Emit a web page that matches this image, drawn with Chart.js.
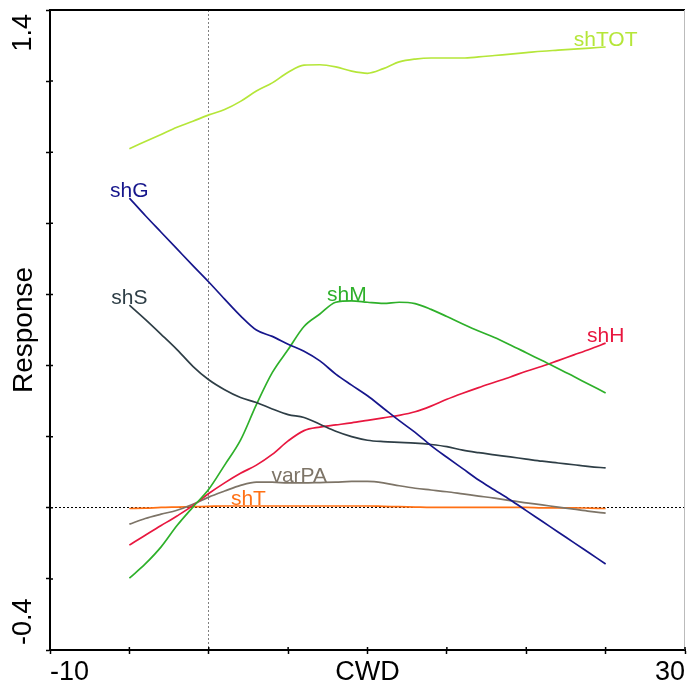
<!DOCTYPE html>
<html lang="en">

<head>
   <meta charset="UTF-8">
   <title>Response vs CWD</title>
   <script src="https://cdn.jsdelivr.net/npm/chart.js@4.4.1/dist/chart.umd.min.js"></script>
   <style>
      body { margin: 0; background: #fff; }
   </style>
</head>

<body>
   <canvas id="myChart" width="687" height="686"></canvas>
   <script>
      // x values (CWD) and the response curves
      const cwd = [-5, -4, -3, -2, -1, 0, 1, 2, 3, 4, 5, 6, 7, 8, 9, 10, 11, 12, 13, 14, 15, 16, 17, 18, 19, 20, 21, 22, 23, 24, 25];
      const shTOT = [1.01, 1.03, 1.05, 1.07, 1.087, 1.105, 1.12, 1.143, 1.172, 1.195, 1.225, 1.245, 1.246, 1.24, 1.228, 1.222, 1.235, 1.254, 1.262, 1.265, 1.265, 1.265, 1.268, 1.272, 1.276, 1.28, 1.284, 1.287, 1.29, 1.293, 1.296];
      const shG = [0.871, 0.822, 0.775, 0.728, 0.681, 0.635, 0.587, 0.54, 0.5, 0.482, 0.46, 0.44, 0.413, 0.376, 0.345, 0.315, 0.28, 0.245, 0.212, 0.175, 0.142, 0.11, 0.078, 0.05, 0.022, -0.008, -0.038, -0.068, -0.098, -0.128, -0.158];
      const shS = [0.57, 0.53, 0.488, 0.445, 0.398, 0.36, 0.332, 0.31, 0.296, 0.278, 0.262, 0.254, 0.235, 0.215, 0.2, 0.19, 0.186, 0.184, 0.182, 0.178, 0.172, 0.162, 0.155, 0.149, 0.143, 0.137, 0.131, 0.126, 0.121, 0.116, 0.112];
      const shM = [-0.198, -0.158, -0.11, -0.05, 0.002, 0.052, 0.12, 0.19, 0.29, 0.38, 0.445, 0.51, 0.545, 0.578, 0.582, 0.578, 0.575, 0.578, 0.574, 0.558, 0.538, 0.517, 0.497, 0.479, 0.458, 0.436, 0.414, 0.392, 0.369, 0.346, 0.323];
      const shH = [-0.105, -0.077, -0.05, -0.023, 0.006, 0.04, 0.07, 0.097, 0.12, 0.15, 0.188, 0.217, 0.227, 0.233, 0.239, 0.246, 0.253, 0.26, 0.27, 0.286, 0.305, 0.322, 0.338, 0.353, 0.368, 0.384, 0.398, 0.414, 0.43, 0.446, 0.463];
      const varPA = [-0.046, -0.03, -0.018, -0.007, 0.01, 0.03, 0.047, 0.063, 0.072, 0.072, 0.07, 0.07, 0.071, 0.072, 0.074, 0.074, 0.07, 0.062, 0.055, 0.05, 0.045, 0.039, 0.033, 0.027, 0.02, 0.014, 0.008, 0.002, -0.004, -0.01, -0.015];
      const shT = [-0.002, -0.001, 0.001, 0.002, 0.003, 0.004, 0.005, 0.005, 0.005, 0.005, 0.005, 0.005, 0.005, 0.005, 0.005, 0.005, 0.004, 0.003, 0.002, 0.001, 0.001, 0.001, 0.001, 0.001, 0.001, 0.001, 0, 0, 0, -0.001, -0.002];

      const xTickLabels = [-10, 30];
      const yTickLabels = [-0.4, 1.4];

      const series = [
         { name: 'shTOT', data: shTOT, color: '#b5e639', at: [25, 1.296] },
         { name: 'shG', data: shG, color: '#16168c', at: [-5, 0.871] },
         { name: 'shS', data: shS, color: '#2e3e46', at: [-5, 0.57] },
         { name: 'shM', data: shM, color: '#2eb02a', at: [8.7, 0.58] },
         { name: 'shH', data: shH, color: '#e8173f', at: [25, 0.463] },
         { name: 'varPA', data: varPA, color: '#7d7467', at: [5.7, 0.07] },
         { name: 'shT', data: shT, color: '#ff7014', at: [2.5, 0.006] }
      ];

      Chart.defaults.font.family = 'Arial, "Liberation Sans", sans-serif';
      Chart.defaults.color = '#000';

      const isZero = c => c.tick && Math.abs(c.tick.value) < 1e-9;

      // frame, inner tick stubs, rotated y end labels and the curve names
      const overlay = {
         id: 'overlay',
         afterDraw(chart) {
            const { ctx, chartArea: a, scales: { x, y } } = chart;
            ctx.save();
            ctx.strokeStyle = '#000';
            ctx.lineWidth = 2;
            ctx.beginPath();
            ctx.moveTo(a.left, a.top);
            ctx.lineTo(a.right, a.top);
            ctx.stroke();
            ctx.strokeStyle = '#bbb';
            ctx.lineWidth = 1;
            ctx.beginPath();
            ctx.moveTo(a.right - 0.5, a.top);
            ctx.lineTo(a.right - 0.5, a.bottom);
            ctx.stroke();

            ctx.strokeStyle = '#000';
            ctx.lineWidth = 1.5;
            ctx.beginPath();
            x.ticks.forEach(t => {
               const px = x.getPixelForValue(t.value);
               ctx.moveTo(px, a.bottom);
               ctx.lineTo(px, a.bottom - 3);
            });
            y.ticks.forEach(t => {
               const py = y.getPixelForValue(t.value);
               ctx.moveTo(a.left, py);
               ctx.lineTo(a.left + 3, py);
            });
            ctx.stroke();

            ctx.fillStyle = '#000';
            ctx.font = '27px Arial, "Liberation Sans", sans-serif';
            ctx.textBaseline = 'middle';
            yTickLabels.forEach((v, i) => {
               const last = i === yTickLabels.length - 1;
               ctx.save();
               ctx.translate(24, y.getPixelForValue(v) + (last ? 4 : -5));
               ctx.rotate(-Math.PI / 2);
               ctx.textAlign = last ? 'right' : 'left';
               ctx.fillText(String(v), 0, 0);
               ctx.restore();
            });

            ctx.font = '21px Arial, "Liberation Sans", sans-serif';
            ctx.textAlign = 'center';
            ctx.textBaseline = 'alphabetic';
            series.forEach(s => {
               ctx.fillStyle = s.color;
               ctx.fillText(s.name, x.getPixelForValue(s.at[0]), y.getPixelForValue(s.at[1]) - 1);
            });
            ctx.restore();
         }
      };

      const config = {
         type: 'line',
         data: {
            datasets: series.map(s => ({
               label: s.name,
               data: cwd.map((c, i) => ({ x: c, y: s.data[i] })),
               borderColor: s.color,
               backgroundColor: s.color,
               borderWidth: 1.7,
               pointRadius: 0,
               cubicInterpolationMode: 'monotone',
               fill: false
            }))
         },
         options: {
            responsive: false,
            animation: false,
            layout: { padding: { top: 10, right: 0, left: 0, bottom: 0 } },
            plugins: {
               legend: { display: false },
               tooltip: { enabled: false }
            },
            scales: {
               x: {
                  type: 'linear',
                  min: -10,
                  max: 30,
                  afterFit: scale => { scale.height = 36; },
                  ticks: {
                     stepSize: 5,
                     align: 'inner',
                     padding: 2,
                     maxRotation: 0,
                     font: { size: 27 },
                     callback: v => xTickLabels.includes(v) ? String(v) : ''
                  },
                  grid: {
                     color: c => isZero(c) ? '#808080' : 'rgba(0,0,0,0)',
                     lineWidth: 1,
                     tickColor: '#000',
                     tickLength: 4,
                     tickWidth: 1.5
                  },
                  border: { display: true, color: '#000', width: 2, dash: [2, 2] },
                  title: {
                     display: true,
                     text: 'CWD',
                     font: { size: 27, lineHeight: 1 },
                     padding: { top: 0, bottom: 0 }
                  }
               },
               y: {
                  min: -0.4,
                  max: 1.4,
                  afterFit: scale => { scale.width = 50; },
                  ticks: { stepSize: 0.2, display: false },
                  grid: {
                     color: c => isZero(c) ? '#000' : 'rgba(0,0,0,0)',
                     lineWidth: 1,
                     tickColor: '#000',
                     tickLength: 4,
                     tickWidth: 1.5
                  },
                  border: { display: true, color: '#000', width: 2, dash: [2, 2] },
                  title: {
                     display: true,
                     text: 'Response',
                     font: { size: 28 },
                     padding: { top: 7, bottom: 0 }
                  }
               }
            }
         },
         plugins: [overlay]
      };

      new Chart(document.getElementById('myChart').getContext('2d'), config);
   </script>
</body>

</html>
